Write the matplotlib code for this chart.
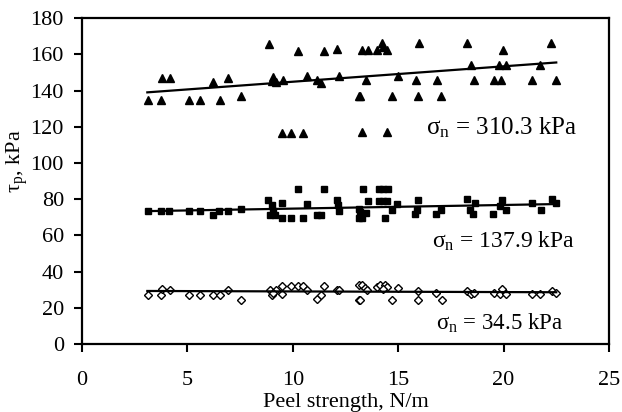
import matplotlib
matplotlib.use("Agg")
import matplotlib.pyplot as plt

plt.rcParams['font.family'] = ['Liberation Serif', 'DejaVu Serif']
plt.rcParams['mathtext.fontset'] = 'custom'
plt.rcParams['mathtext.rm'] = 'Liberation Serif'
plt.rcParams['mathtext.it'] = 'Liberation Serif:italic'

# sigma_n = 310.3 kPa (triangles)
tri_x = [3.12, 3.75, 3.81, 4.17, 5.09, 5.6, 6.2, 6.56, 6.94, 7.56, 8.87, 9.0, 9.05, 9.2,
         9.52, 9.5, 9.93, 10.26, 10.5, 10.66, 11.16, 11.32, 11.5, 12.11, 12.18, 13.15,
         13.27, 13.58, 14.01, 14.22, 14.29, 14.45, 15.99, 18.25, 19.96, 22.25, 13.47, 15.0,
         15.83, 16.82, 18.45, 18.61, 19.54, 19.86, 19.8, 20.1, 21.33, 21.74, 22.47, 13.19,
         14.69, 15.95, 17.02, 13.27, 14.45]
tri_y = [135, 135, 146.7, 146.7, 135, 135, 144.5, 135, 146.7, 137, 165.7, 145, 147.6, 144.5,
         145.8, 116.7, 116.7, 162, 116.7, 148, 145.8, 144.3, 162, 162.7, 148, 137,
         162.3, 162.3, 162.3, 166, 164, 162.3, 166, 166, 162.3, 166, 146, 148,
         146, 146, 154, 146, 146, 146, 154, 154, 146, 154, 146, 137,
         137, 137, 137, 117.2, 117.2]

# sigma_n = 137.9 kPa (squares)
sq_x = [3.12, 3.75, 4.14, 5.08, 5.58, 6.2, 6.51, 6.94, 7.56, 8.84, 9.0, 8.92, 9.16, 9.05,
        9.5, 9.5, 9.93, 10.26, 10.5, 10.66, 11.13, 11.32, 11.5, 12.08, 12.16, 12.2, 13.15, 13.15,
        13.35, 14.1, 14.29, 14.5, 13.58, 14.09, 14.26, 14.45, 13.19, 13.47, 13.27, 14.37,
        14.69, 14.96, 15.95, 15.91, 15.8, 16.78, 17.02, 18.25, 18.64, 18.41, 18.56, 19.51,
        19.94, 19.83, 20.1, 21.33, 21.76, 22.28, 22.47]
sq_y = [73.4, 73.4, 73.4, 73.4, 73.4, 71.2, 73.4, 73.4, 74.4, 79.5, 76.8, 71.2, 71.2, 73.5,
        77.7, 69.4, 69.4, 85.4, 69.4, 77.1, 71.2, 71.2, 85.4, 79.5, 76.8, 73.5, 74.4, 69.4,
        85.4, 85.4, 85.4, 85.4, 79.1, 79.1, 79.1, 79.1, 73, 72.2, 69.4, 69.4,
        74, 77.1, 79.5, 74, 71.8, 71.8, 74, 79.9, 78, 74, 71.8, 71.8,
        79.5, 76.5, 74, 77.7, 74, 79.9, 77.7]

# sigma_n = 34.5 kPa (diamonds)
di_x = [3.12, 3.75, 3.81, 4.17, 5.09, 5.6, 6.2, 6.55, 6.94, 7.56, 8.9, 9.0, 9.2, 9.05,
        9.5, 9.5, 9.93, 10.26, 10.5, 10.66, 11.16, 11.32, 11.5, 12.1, 12.2, 13.15, 13.15,
        13.27, 13.43, 13.5, 13.19, 13.98, 14.14, 14.37, 14.45, 14.26, 14.69, 14.98, 15.95,
        15.95, 16.78, 17.06, 18.25, 18.45, 18.61, 19.54, 19.83, 19.94, 20.1, 21.33, 21.74,
        22.28, 22.47]
di_y = [27, 27, 30.2, 29.8, 27, 27, 27, 27, 29.8, 24.3, 30, 27, 30, 28,
        32.2, 27.5, 32.3, 32.2, 32.3, 30, 24.8, 27, 32, 30, 30, 32.4, 24.3,
        32.6, 30.7, 29.8, 24.3, 31.6, 32.6, 32.6, 31.6, 30.2, 24.3, 30.7, 29.4,
        24.3, 28.3, 24.3, 29.4, 27.4, 28.3, 28.3, 27.4, 30.2, 27.4, 27.4, 27.4,
        29.4, 28.3]

# trend lines (end points)
fit_x = [3.1, 22.5]
tri_fit = [139.0, 155.5]
sq_fit = [73.4, 77.3]
di_fit = [29.3, 28.6]

labels = ['σ$_\\mathrm{n}$ = 310.3 kPa', 'σ$_\\mathrm{n}$ = 137.9 kPa', 'σ$_\\mathrm{n}$ = 34.5 kPa']
label_pos = [(16.3, 119.5), (16.6, 56.5), (16.8, 11.4)]
label_sizes = [18, 17, 16.5]

fig = plt.figure(figsize=(6.22, 4.12), dpi=100)
ax = fig.add_axes([0.1318, 0.165, 0.979 - 0.1318, 0.956 - 0.165])

ax.plot(tri_x, tri_y, linestyle='none', marker='^', ms=5.5, color='black', mec='black')
ax.plot(sq_x, sq_y, linestyle='none', marker='s', ms=4.5, color='black', mec='black')
ax.plot(di_x, di_y, linestyle='none', marker='D', ms=3.6, mfc='white', mec='black', mew=1.0)

for fy in (tri_fit, sq_fit, di_fit):
    ax.plot(fit_x, fy, color='black', lw=1.6)

for lab, (lx, ly), fs in zip(labels, label_pos, label_sizes):
    ax.text(lx, ly, lab, fontsize=fs, va='center', ha='left')

ax.set_xlim(0, 25)
ax.set_ylim(0, 180)
ax.set_xticks(range(0, 26, 5))
ax.set_yticks(range(0, 181, 20))
ax.tick_params(direction='out', length=6, width=1.5, labelsize=16, pad=7)
ax.tick_params(axis='x', length=5.5, pad=14)
for s in ax.spines.values():
    s.set_linewidth(1.6)

ax.set_xlabel('Peel strength, N/m', fontsize=16, labelpad=2)
ax.set_ylabel('τ$_\\mathrm{p}$, kPa', fontsize=16)
ax.yaxis.set_label_coords(-0.098, 0.56)

fig.savefig('out.png', dpi=100)
